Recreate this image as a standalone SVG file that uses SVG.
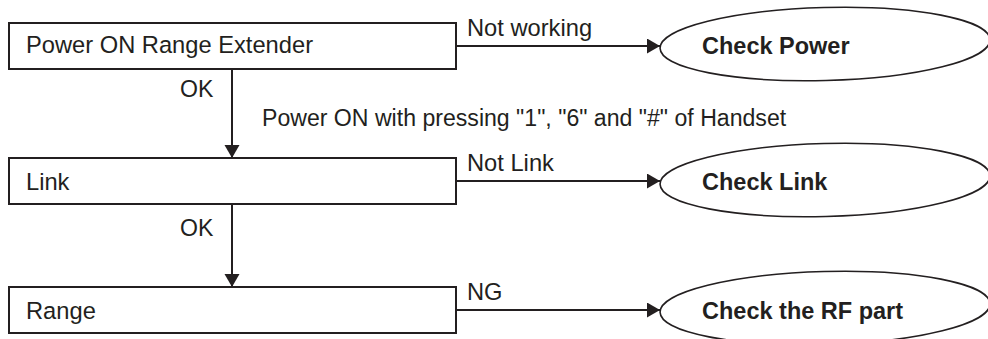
<svg xmlns="http://www.w3.org/2000/svg" width="988" height="339" viewBox="0 0 988 339">
  <style>
    .box { fill: #ffffff; stroke: #231f20; stroke-width: 2; }
    .oval { fill: #ffffff; stroke: #231f20; stroke-width: 1.6; }
    .t { font-family: "Liberation Sans", Arial, sans-serif; font-size: 23.7px; fill: #231f20; }
    .s { font-size: 23.1px; }
    .b { font-family: "Liberation Sans", Arial, sans-serif; font-size: 23.5px; font-weight: bold; fill: #231f20; }
    .c { fill: none; stroke: #231f20; stroke-width: 2; }
  </style>
  <defs>
    <marker id="ah" markerUnits="userSpaceOnUse" markerWidth="14" markerHeight="16" refX="13" refY="7.5" orient="auto">
      <path d="M0,0 L13,7.5 L0,15 Z" fill="#231f20"/>
    </marker>
  </defs>
  <rect width="988" height="339" fill="#ffffff"/>

  <g id="connectors">
    <line class="c" x1="456" y1="46" x2="660" y2="46" marker-end="url(#ah)"/>
    <text class="t" x="467" y="36">Not working</text>
    <line class="c" x1="232" y1="69" x2="232" y2="158" marker-end="url(#ah)"/>
    <text class="t s" x="180" y="97">OK</text>
    <text class="t s" x="262" y="126">Power ON with pressing "1", "6" and "#" of Handset</text>
    <line class="c" x1="456" y1="181" x2="660" y2="181" marker-end="url(#ah)"/>
    <text class="t" x="467" y="171">Not Link</text>
    <line class="c" x1="232" y1="204" x2="232" y2="287" marker-end="url(#ah)"/>
    <text class="t s" x="180" y="236">OK</text>
    <line class="c" x1="456" y1="310" x2="660" y2="310" marker-end="url(#ah)"/>
    <text class="t" x="467" y="300">NG</text>
  </g>

  <g id="power-on">
    <rect class="box" x="9" y="23" width="447" height="46"/>
    <text class="t" x="26" y="53">Power ON Range Extender</text>
  </g>
  <g id="link">
    <rect class="box" x="9" y="158" width="447" height="46"/>
    <text class="t" x="26" y="190">Link</text>
  </g>
  <g id="range">
    <rect class="box" x="9" y="287" width="447" height="46"/>
    <text class="t" x="26" y="319">Range</text>
  </g>

  <g id="check-power">
    <ellipse class="oval" cx="825" cy="44" rx="165" ry="36.5" transform="rotate(-1.5 825 44)"/>
    <text class="b" x="702" y="54">Check Power</text>
  </g>
  <g id="check-link">
    <ellipse class="oval" cx="825" cy="180" rx="165" ry="36.5" transform="rotate(-1.5 825 180)"/>
    <text class="b" x="702" y="190">Check Link</text>
  </g>
  <g id="check-rf">
    <ellipse class="oval" cx="825" cy="308" rx="165" ry="36.5" transform="rotate(-1.5 825 308)"/>
    <text class="b" x="702" y="319">Check the RF part</text>
  </g>
</svg>
